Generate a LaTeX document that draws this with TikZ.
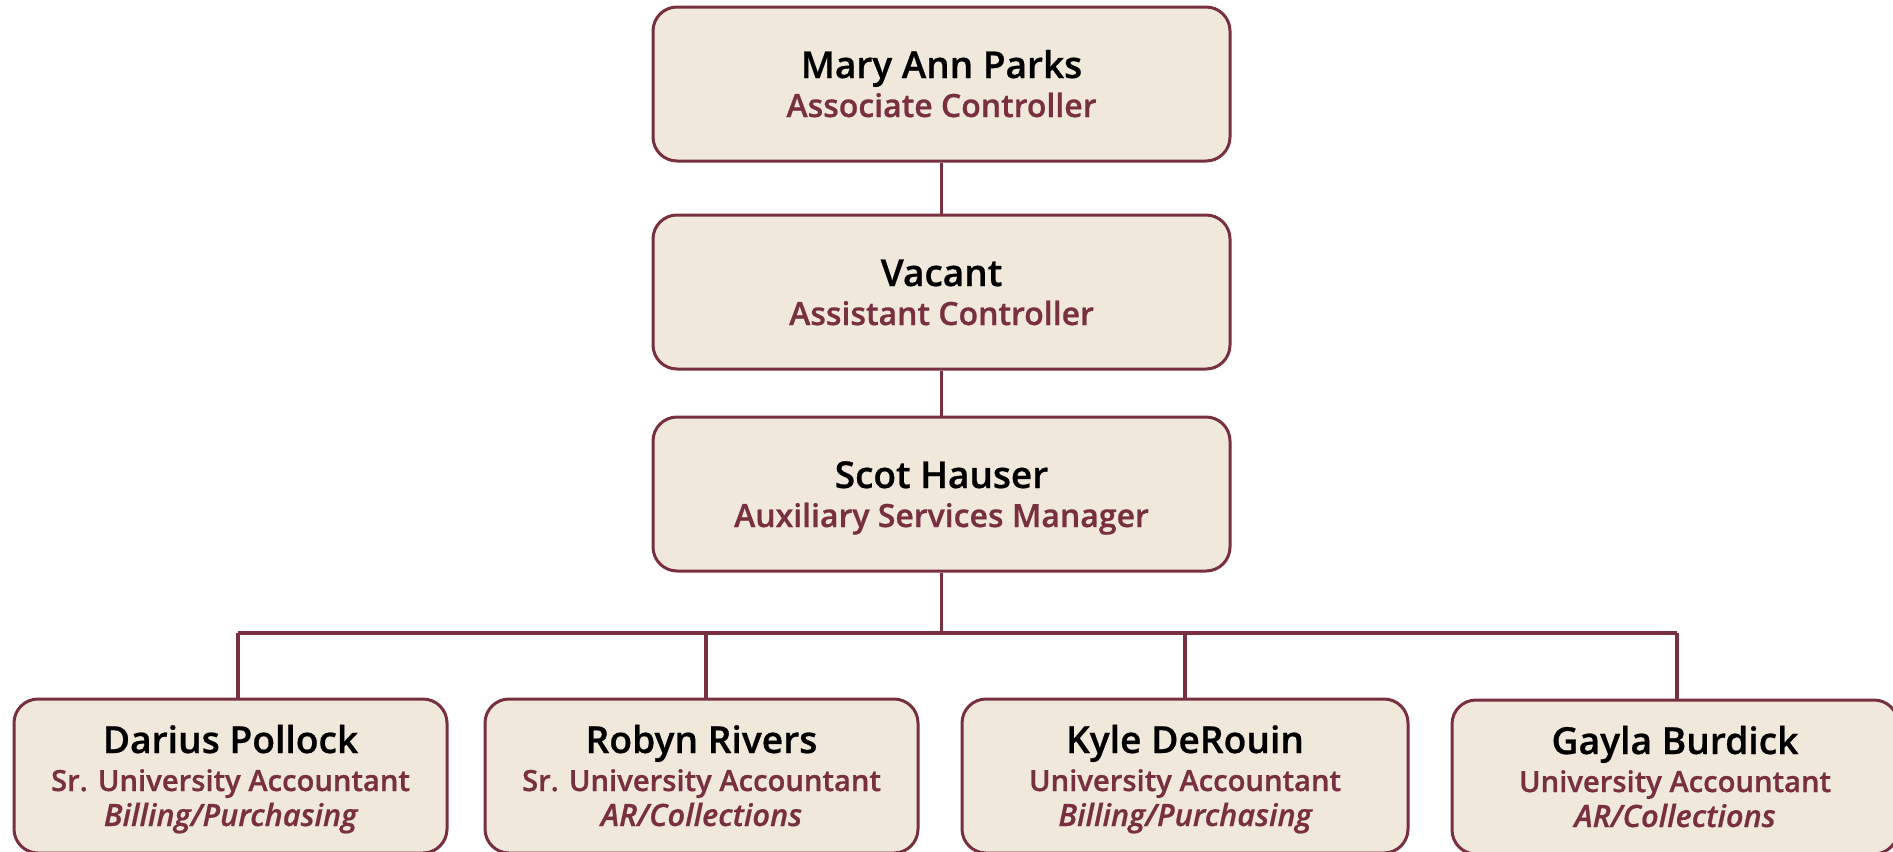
\documentclass[tikz,border=0pt]{standalone}
\usepackage{fontspec}
\IfFontExistsTF{Open Sans SemiBold}{%
  \setmainfont{Open Sans}[BoldFont={Open Sans SemiBold},BoldFeatures={FakeBold=0.7},
    BoldItalicFont={Open Sans SemiBold Italic},BoldItalicFeatures={FakeBold=0.6}]}{%
  \IfFontExistsTF{Open Sans Semibold}{%
    \setmainfont{Open Sans}[BoldFont={Open Sans Semibold},BoldFeatures={FakeBold=0.7},
      BoldItalicFont={Open Sans Semibold Italic},BoldItalicFeatures={FakeBold=0.6}]}{%
    \setmainfont{Open Sans}}}
\definecolor{garnet}{HTML}{782F40}
\definecolor{boxfill}{HTML}{EFE8DB}
\begin{document}
\begin{tikzpicture}[x=0.5pt,y=-0.5pt,
  card/.style={draw=garnet, fill=boxfill, line width=1.5pt, rounded corners=12pt,
    inner sep=0pt, minimum height=77pt},
  widecard/.style={card, minimum width=288.5pt},
  narrowcard/.style={card, minimum width=216.5pt},
  broadcard/.style={card, minimum width=223pt},
  link/.style={draw=garnet, line width=1.6pt},
  txtline/.style={anchor=base, inner sep=0pt},
  bigname/.style={txtline, font=\fontsize{18.5}{22}\selectfont\bfseries},
  bigtitle/.style={txtline, text=garnet, font=\fontsize{16}{19}\selectfont\bfseries},
  staffname/.style={txtline, font=\fontsize{18.6}{22}\selectfont\bfseries},
  stafftitle/.style={txtline, text=garnet, font=\fontsize{14.6}{18}\selectfont\bfseries},
  staffdept/.style={txtline, text=garnet, font=\fontsize{15.4}{18}\selectfont\bfseries\itshape}]
\useasboundingbox (0,0) rectangle (1893,851);
% management chain
\node[widecard] (mp) at (941.5,84) {};
\node[widecard] (vc) at (941.5,292) {};
\node[widecard] (sh) at (941.5,494) {};
\foreach \b/\n/\t in {mp/Mary Ann Parks/Associate Controller,
                      vc/Vacant/Assistant Controller,
                      sh/Scot Hauser/Auxiliary Services Manager}{
  \node[bigname] (\b-n) at ([yshift=3pt]\b.center) {\n};
  \node[bigtitle] (\b-t) at ([yshift=-16.5pt]\b.center) {\t};
}
% staff row
\node[narrowcard] (dp) at (230.5,776) {};
\node[narrowcard] (rr) at (701.5,776) {};
\node[broadcard] (kd) at (1185,776) {};
\node[broadcard] (gb) at (1675,777) {};
\foreach \b/\n/\t/\d in {dp/Darius Pollock/Sr. University Accountant/Billing\slash Purchasing,
                         rr/Robyn Rivers/Sr. University Accountant/AR\slash Collections,
                         kd/Kyle DeRouin/University Accountant/Billing\slash Purchasing,
                         gb/Gayla Burdick/University Accountant/AR\slash Collections}{
  \node[staffname] (\b-n) at ([yshift=11.5pt]\b.center) {\n};
  \node[stafftitle] (\b-t) at ([yshift=-7.5pt]\b.center) {\t};
  \node[staffdept] (\b-d) at ([yshift=-25pt]\b.center) {\d};
}
% reporting lines
\coordinate (j0) at (941.5,633);
\coordinate (j1) at (238,633);
\coordinate (j2) at (706,633);
\coordinate (j3) at (1185,633);
\coordinate (j4) at (1677,633);
\draw[link] (mp.south) -- (vc.north);
\draw[link] (vc.south) -- (sh.north);
\draw[link] (sh.south) -- (j0);
\draw[link] (j1) -- (j4);
\draw[link] (j1) -- (j1 |- dp.north);
\draw[link] (j2) -- (j2 |- rr.north);
\draw[link] (j3) -- (j3 |- kd.north);
\draw[link] (j4) -- (j4 |- gb.north);
\end{tikzpicture}
\end{document}
